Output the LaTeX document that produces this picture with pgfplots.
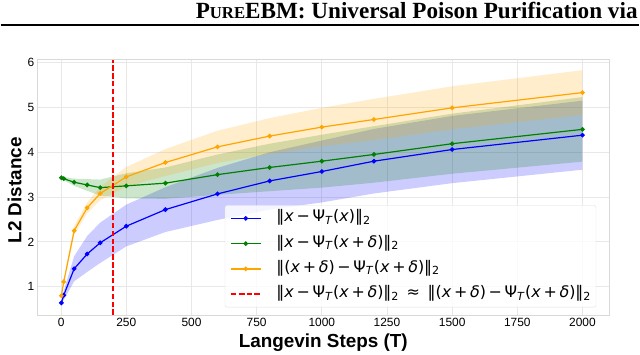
\documentclass[border=0pt]{standalone}
\usepackage{pgfplots}
\pgfplotsset{compat=1.18}
\usepackage{pgfplotstable}
\usepgfplotslibrary{fillbetween}
\usepackage{fontspec}
\setmainfont{Liberation Sans}
\newfontfamily\dejavu{DejaVu Sans}
\newfontfamily\timesfont{Liberation Serif}

\definecolor{mplgreen}{rgb}{0,0.5,0}
\definecolor{mplorange}{rgb}{1,0.647,0}
\definecolor{mplred}{rgb}{1,0,0}

% mean and mean -/+ std
\pgfplotstableread{
x    b    bl   bu   g    gl   gu   o    ol   ou
1    0.64 0.60 0.68 3.43 3.40 3.46 0.80 0.77 0.83
10   0.81 0.71 0.91 3.41 3.37 3.45 1.11 1.06 1.16
50   1.40 1.12 1.68 3.33 3.25 3.41 2.25 2.15 2.35
100  1.73 1.33 2.13 3.27 3.14 3.40 2.76 2.64 2.88
150  1.98 1.53 2.43 3.21 3.03 3.39 3.08 2.93 3.23
250  2.35 1.90 2.83 3.25 2.97 3.53 3.45 3.23 3.67
400  2.72 2.22 3.22 3.31 2.96 3.66 3.77 3.47 4.07
600  3.07 2.49 3.65 3.50 3.05 3.95 4.12 3.76 4.48
800  3.36 2.72 4.00 3.66 3.13 4.19 4.36 3.96 4.76
1000 3.57 2.88 4.26 3.80 3.21 4.39 4.56 4.13 4.99
1200 3.80 3.08 4.52 3.95 3.32 4.58 4.73 4.27 5.19
1500 4.06 3.31 4.81 4.19 3.52 4.86 4.99 4.51 5.47
2000 4.38 3.61 5.15 4.51 3.79 5.23 5.33 4.83 5.83
}\steps

\newcommand{\nn}{‖}
\newcommand{\vx}{\textit{x}}
\newcommand{\dl}{\textit{δ}}
\newcommand{\PsiT}{Ψ\textsubscript{\textit{T}}}

\begin{document}
\begin{tikzpicture}
\path (0bp,0bp) rectangle (640bp,354bp);
\node[anchor=base east, inner sep=0, font=\timesfont\bfseries\fontsize{23.3}{25}\selectfont]
  at (638.5bp,335.8bp) {P{\fontsize{16.8}{18}\selectfont URE}EBM: Universal Poison Purification via};
\draw[line width=1.5bp] (0bp,329bp) -- (640bp,329bp);

\begin{axis}[
  at={(37bp,38.3bp)}, anchor=south west,
  scale only axis, width=573bp, height=255.7bp,
  xmin=-90, xmax=2103, ymin=0.37, ymax=6.06,
  xtick={0,250,...,2000}, ytick={1,2,3,4,5,6},
  scaled x ticks=false,
  /pgf/number format/1000 sep={},
  /pgf/number format/assume math mode=true,
  grid=major,
  major grid style={gray!18, line width=0.8bp},
  axis line style={gray!30, line width=0.8bp},
  tick style={draw=none},
  ticklabel style={font=\fontsize{12}{14}\selectfont},
  xlabel={Langevin Steps (T)}, ylabel={L2 Distance},
  label style={font=\bfseries\fontsize{19}{22}\selectfont},
  xlabel style={at={(axis description cs:0.4997,-0.1263)}, anchor=base},
  ylabel style={at={(axis description cs:-0.0285,0.4885)}, anchor=base},
  legend style={at={(0.977,0.03)}, anchor=south east,
    draw=gray!25, rounded corners=2bp, fill=white, fill opacity=0.8, text opacity=1,
    font=\dejavu\fontsize{16}{18}\selectfont,
    inner xsep=5bp, inner ysep=6bp,
    nodes={inner sep=0bp, text height=10.5bp, text depth=3.5bp},
    column sep=15bp, row sep=11.3bp},
  legend cell align=left,
  legend image code/.code={\draw[mark repeat=2,mark phase=2,#1] plot coordinates {(0bp,0bp) (15bp,0bp) (30bp,0bp)};},
]
% std bands
\addplot[draw=none, name path=bl, forget plot] table[x=x,y=bl]{\steps};
\addplot[draw=none, name path=bu, forget plot] table[x=x,y=bu]{\steps};
\addplot[draw=none, name path=gl, forget plot] table[x=x,y=gl]{\steps};
\addplot[draw=none, name path=gu, forget plot] table[x=x,y=gu]{\steps};
\addplot[draw=none, name path=ol, forget plot] table[x=x,y=ol]{\steps};
\addplot[draw=none, name path=ou, forget plot] table[x=x,y=ou]{\steps};
\addplot[fill=blue, fill opacity=0.2, draw=none, forget plot] fill between[of=bu and bl];
\addplot[fill=mplgreen, fill opacity=0.2, draw=none, forget plot] fill between[of=gu and gl];
\addplot[fill=mplorange, fill opacity=0.2, draw=none, forget plot] fill between[of=ou and ol];
% means
\addplot[blue, line width=1.2bp, mark=*, mark size=1.7bp] table[x=x,y=b]{\steps};
\addlegendentry{\nn\vx\,−\,\PsiT(\vx)\nn\textsubscript{2}}
\addplot[mplgreen, line width=1.2bp, mark=*, mark size=1.7bp] table[x=x,y=g]{\steps};
\addlegendentry{\nn\vx\,−\,\PsiT(\vx\,+\,\dl)\nn\textsubscript{2}}
\addplot[mplorange, line width=1.2bp, mark=*, mark size=1.7bp] table[x=x,y=o]{\steps};
\addlegendentry{\nn(\vx\,+\,\dl)\,−\,\PsiT(\vx\,+\,\dl)\nn\textsubscript{2}}
\addplot[draw=mplred, color=mplred, opacity=1, line width=1.6bp, dash pattern=on 5.5bp off 2.4bp, mark=none] table {
x y
200 0.37
200 6.06
};
\addlegendentry{\nn\vx\,−\,\PsiT(\vx\,+\,\dl)\nn\textsubscript{2}\ \,≈\ \,\nn(\vx\,+\,\dl)\,−\,\PsiT(\vx\,+\,\dl)\nn\textsubscript{2}}
\end{axis}
\end{tikzpicture}
\end{document}
